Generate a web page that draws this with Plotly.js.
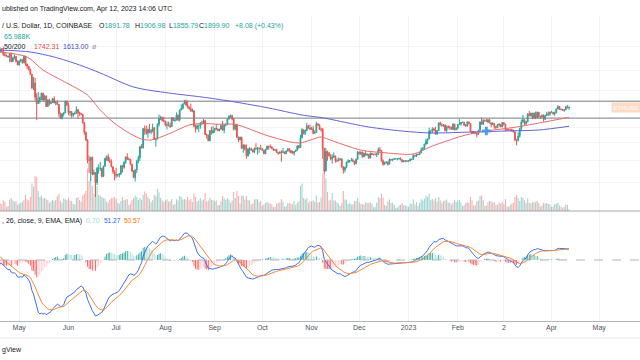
<!DOCTYPE html>
<html><head><meta charset="utf-8">
<script src="https://cdn.plot.ly/plotly-3.0.1.min.js"></script>
<style>html,body{margin:0;padding:0;background:#fff;overflow:hidden}#chart{width:640px;height:360px}</style>
</head><body><div id="chart"></div>
<script>
// ---------- DATA (ETH / U.S. Dollar, 1D, COINBASE) ----------
// closes before the visible window (Mar 1 - Apr 18 2022), used only to warm up the MACD
const warmupCloses = [2970,2950,2835,2620,2665,2555,2495,2575,2725,2610,2560,2555,2515,2590,2620,2770,2815,2945,2950,2860,2895,2970,3030,3110,3105,3145,3300,3330,3400,3385,3280,
 3455,3445,3520,3520,3410,3170,3235,3190,3260,3210,2980,3030,3120,3020,3040,3060,2990,3055];
const firstDay = '2022-04-19';
// daily [high, low, close]
const apr22 = [[3170,3030,3105],[3155,3040,3075],[3190,2950,2985],[3030,2930,2965],[2980,2925,2940],[2955,2900,2925],[3020,2790,3005],[3040,2790,2810],[2925,2795,2890],[2985,2860,2935],[2940,2785,2815],[2840,2725,2730]];
const may22 = [[2835,2710,2825],[2880,2790,2855],[2875,2760,2780],[2955,2770,2940],[2950,2705,2750],[2760,2630,2700],[2700,2600,2635],[2640,2505,2520],[2525,2215,2245],[2460,2200,2340],
 [2445,2010,2070],[2145,1700,1960],[2165,1955,2010],[2080,1960,2060],[2150,2020,2145],[2140,1990,2020],[2115,2015,2090],[2100,1905,1910],[2030,1905,2020],[2045,1925,1960],
 [1990,1950,1975],[2055,1970,2045],[2085,1965,1970],[2000,1930,1980],[2015,1935,1945],[1955,1750,1800],[1815,1715,1725],[1805,1710,1790],[1815,1755,1810],[2010,1805,1995],
 [2015,1920,1940]];
const jun22 = [[1975,1775,1815],[1840,1760,1830],[1835,1735,1775],[1805,1745,1800],[1830,1780,1805],[1915,1795,1860],[1870,1720,1815],[1830,1765,1790],[1810,1775,1790],[1790,1650,1665],
 [1675,1500,1530],[1545,1420,1435],[1440,1175,1210],[1255,1080,1205],[1240,1010,1235],[1245,1060,1070],[1115,1065,1085],[1090,880,995],[1140,975,1125],[1165,1075,1125],
 [1190,1100,1125],[1130,1040,1050],[1150,1045,1145],[1230,1140,1225],[1255,1200,1245],[1275,1195,1200],[1235,1180,1190],[1215,1135,1140],[1140,1075,1095],[1105,1015,1070]];
const jul22 = [[1130,1035,1060],[1070,1045,1065],[1080,1040,1075],[1155,1060,1150],[1160,1085,1135],[1195,1120,1185],[1245,1170,1240],[1280,1210,1215],[1235,1205,1215],[1220,1155,1165],
 [1170,1090,1100],[1105,1035,1040],[1115,1005,1110],[1210,1080,1195],[1255,1175,1235],[1365,1200,1355],[1385,1335,1340],[1590,1335,1580],[1625,1500,1545],[1620,1500,1520],
 [1580,1460,1575],[1645,1520,1535],[1575,1505,1550],[1650,1530,1595],[1600,1435,1440],[1460,1355,1450],[1655,1440,1640],[1785,1610,1725],[1765,1700,1735],[1755,1680,1695],
 [1750,1670,1680]];
const aug22 = [[1695,1610,1630],[1680,1570,1635],[1680,1615,1620],[1665,1590,1610],[1740,1605,1735],[1745,1690,1695],[1725,1675,1700],[1815,1700,1775],[1785,1685,1705],[1860,1680,1855],
 [1945,1850,1880],[1960,1865,1955],[2020,1950,1985],[2030,1920,1935],[2010,1880,1905],[1905,1860,1875],[1960,1830,1835],[1880,1820,1845],[1850,1600,1615],[1640,1530,1580],
 [1640,1570,1620],[1630,1535,1625],[1670,1580,1660],[1690,1630,1655],[1720,1650,1695],[1705,1495,1505],[1515,1450,1490],[1505,1420,1425],[1560,1420,1555],[1605,1500,1525],
 [1620,1515,1555]];
const sep22 = [[1590,1525,1585],[1645,1560,1575],[1585,1545,1555],[1580,1545,1575],[1650,1570,1620],[1690,1555,1560],[1640,1520,1630],[1655,1610,1635],[1725,1630,1715],[1770,1710,1760],
 [1785,1735,1770],[1770,1700,1715],[1735,1555,1575],[1640,1560,1635],[1650,1460,1470],[1475,1410,1435],[1475,1430,1470],[1470,1330,1335],[1380,1285,1375],[1380,1310,1325],
 [1380,1220,1250],[1335,1245,1330],[1350,1270,1330],[1345,1310,1315],[1325,1290,1295],[1345,1280,1335],[1395,1320,1330],[1350,1265,1335],[1345,1285,1335],[1375,1320,1330]];
const oct22 = [[1335,1305,1310],[1320,1270,1275],[1330,1270,1325],[1365,1320,1360],[1365,1320,1350],[1380,1345,1350],[1360,1325,1330],[1335,1310,1315],[1325,1305,1320],[1330,1285,1290],
 [1295,1265,1280],[1300,1275,1295],[1315,1190,1290],[1340,1285,1295],[1300,1270,1275],[1310,1275,1305],[1335,1300,1330],[1340,1290,1310],[1315,1280,1285],[1310,1275,1280],
 [1305,1255,1300],[1320,1295,1315],[1365,1305,1365],[1375,1330,1345],[1500,1340,1460],[1590,1455,1565],[1575,1505,1515],[1570,1495,1555],[1660,1550,1620],[1630,1580,1590],
 [1640,1560,1575]];
const nov22 = [[1605,1565,1580],[1620,1505,1520],[1560,1510,1530],[1675,1530,1645],[1660,1620,1630],[1640,1565,1570],[1595,1540,1570],[1590,1220,1335],[1340,1075,1100],[1340,1095,1300],
 [1310,1200,1285],[1290,1240,1255],[1270,1205,1220],[1270,1170,1240],[1290,1230,1250],[1255,1180,1200],[1225,1185,1200],[1235,1195,1210],[1225,1205,1220],[1225,1130,1140],
 [1145,1075,1110],[1140,1085,1135],[1190,1125,1185],[1215,1180,1200],[1205,1180,1200],[1230,1195,1205],[1225,1190,1195],[1200,1155,1170],[1225,1165,1215],[1305,1215,1295]];
const dec22 = [[1300,1265,1275],[1300,1260,1295],[1295,1235,1240],[1285,1240,1280],[1305,1255,1260],[1275,1250,1270],[1270,1220,1230],[1290,1225,1280],[1285,1260,1265],[1275,1260,1265],
 [1285,1260,1265],[1280,1240,1275],[1345,1260,1320],[1350,1300,1310],[1315,1190,1200],[1215,1150,1165],[1190,1160,1185],[1195,1170,1185],[1195,1150,1165],[1225,1165,1215],
 [1220,1200,1210],[1220,1195,1215],[1230,1210,1220],[1225,1215,1220],[1225,1205,1220],[1230,1215,1225],[1235,1205,1210],[1215,1185,1190],[1205,1185,1200],[1205,1185,1200],
 [1205,1190,1195]];
const jan23 = [[1205,1190,1200],[1225,1195,1215],[1220,1205,1215],[1275,1210,1255],[1260,1245,1250],[1275,1240,1270],[1270,1260,1265],[1290,1260,1285],[1345,1280,1320],[1350,1310,1335],
 [1390,1325,1385],[1450,1375,1420],[1455,1385,1450],[1595,1445,1550],[1555,1510,1550],[1600,1520,1575],[1595,1545,1565],[1605,1500,1510],[1560,1500,1555],[1665,1550,1660],
 [1680,1625,1630],[1655,1605,1625],[1645,1605,1630],[1640,1545,1555],[1625,1530,1610],[1625,1580,1600],[1620,1565,1600],[1605,1565,1570],[1655,1570,1645],[1645,1555,1565],
 [1600,1565,1585]];
const feb23 = [[1645,1570,1640],[1715,1640,1645],[1675,1620,1665],[1680,1660,1670],[1675,1620,1630],[1645,1610,1615],[1680,1615,1675],[1680,1640,1650],[1655,1535,1545],[1550,1510,1515],
 [1545,1510,1540],[1550,1510,1515],[1520,1465,1505],[1565,1500,1555],[1680,1550,1675],[1740,1635,1640],[1715,1635,1695],[1710,1685,1690],[1720,1675,1680],[1715,1655,1705],
 [1720,1655,1660],[1665,1600,1640],[1675,1630,1650],[1660,1580,1610],[1610,1575,1595],[1645,1590,1640],[1660,1610,1635],[1645,1600,1605]];
const mar23 = [[1670,1600,1665],[1665,1625,1645],[1645,1545,1570],[1575,1555,1565],[1580,1560,1565],[1575,1550,1565],[1580,1540,1560],[1565,1530,1535],[1545,1420,1435],[1445,1370,1430],
 [1530,1415,1480],[1590,1465,1585],[1710,1555,1675],[1780,1665,1705],[1715,1625,1650],[1690,1625,1675],[1800,1670,1795],[1840,1760,1765],[1815,1755,1805],[1810,1715,1735],
 [1815,1715,1805],[1830,1715,1735],[1830,1730,1820],[1820,1735,1750],[1765,1720,1745],[1785,1740,1775],[1785,1680,1715],[1780,1700,1770],[1825,1765,1795],[1830,1765,1790],
 [1830,1765,1820]];
const apr23 = [[1840,1810,1820],[1825,1780,1795],[1830,1765,1810],[1880,1805,1870],[1935,1865,1910],[1910,1855,1870],[1875,1850,1865],[1870,1845,1850],[1865,1825,1860],[1915,1850,1910],
 [1935,1880,1891.78],[1906.98,1855.79,1899.90]];
// daily volume, thousands of ETH
const volApr22 = [310,280,420,360,170,200,460,520,420,380,390,250];
const volMay22 = [300,330,380,440,650,470,420,560,1100,980,1400,1350,800,560,620,500,520,470,430,320,380,450,400,440,600,690,400,330,500,470,430];
const volJun22 = [520,420,400,280,260,520,560,440,380,620,690,800,1700,1200,1350,1000,700,1300,1000,650,600,560,520,500,370,330,450,520,530,560];
const volJul22 = [480,330,290,400,560,430,460,470,240,300,430,520,620,560,450,520,450,650,780,700,560,480,350,430,650,600,880,750,520,420,360];
const volAug22 = [420,470,380,380,480,240,280,470,420,600,560,460,480,440,560,420,480,360,700,560,380,420,520,420,460,720,380,420,520,450,430];
const volSep22 = [390,420,230,240,400,600,500,440,520,460,330,420,760,520,800,600,300,600,620,450,600,440,420,260,300,460,480,470,360,400];
const volOct22 = [210,260,320,360,320,300,270,160,170,300,320,330,480,380,180,200,300,320,300,270,400,230,330,400,1000,1100,520,460,520,330,400];
const volNov22 = [380,420,360,620,330,360,540,1500,1650,1300,760,420,450,720,420,420,350,300,200,330,800,460,450,280,320,260,270,390,400,520];
const volDec22 = [350,290,270,260,360,320,330,340,290,150,170,330,560,510,700,520,250,200,380,460,320,330,250,120,140,220,250,320,240,220,200];
const volJan23 = [170,300,280,470,260,360,200,320,470,420,500,620,560,700,430,480,420,520,380,560,420,320,400,420,460,340,330,260,330,450,360];
const volFeb23 = [420,440,340,200,230,320,350,330,560,420,220,230,390,420,600,620,430,210,220,360,400,380,340,360,250,260,330,300];
const volMar23 = [360,280,480,180,170,240,300,330,560,640,520,400,560,520,430,330,500,330,300,360,350,360,400,320,180,220,330,300,320,280,270];
const volApr23 = [170,180,280,300,320,220,170,130,160,260,240,65.988];
// moving averages 50 / 200
const ma50Dates = ['2022-04-19','2022-05-06','2022-05-16','2022-05-31','2022-06-08','2022-06-13','2022-06-21','2022-06-29','2022-07-08','2022-07-17','2022-07-23','2022-08-03','2022-08-16','2022-08-24','2022-09-04','2022-09-14','2022-10-05','2022-10-24','2022-11-07','2022-11-11','2022-12-02','2022-12-19','2023-01-04','2023-01-16','2023-02-06','2023-02-19','2023-03-10','2023-04-12'];
const ma50Values = [3049,2921,2613,2338,2202,2109,1855,1674,1536,1446,1434,1510,1631,1652,1640,1640,1484,1398,1472,1446,1316,1283,1272,1362,1497,1549,1603,1742.31];
const ma200Dates = ['2022-04-19','2022-05-08','2022-05-23','2022-06-08','2022-06-21','2022-07-12','2022-08-03','2022-08-24','2022-09-06','2022-09-14','2022-10-05','2022-10-26','2022-11-09','2022-11-15','2022-12-07','2022-12-28','2023-01-15','2023-02-10','2023-03-03','2023-03-24','2023-04-12'];
const ma200Values = [3102,3049,2921,2728,2547,2259,2146,2073,2021,1986,1887,1777,1732,1703,1603,1549,1523,1536,1549,1563,1613.00];
const crossDate = ['2023-02-19'];
const crossPrice = [1549];
const levelLines = [2000, 1730];
const tickDates = ['2022-05-01','2022-06-01','2022-07-01','2022-08-01','2022-09-01','2022-10-01','2022-11-01','2022-12-01','2023-01-01','2023-02-01','2023-03-02','2023-04-01','2023-05-01'];
const tickLabels = ['May','Jun','Jul','Aug','Sep','Oct','Nov','Dec','2023','Feb','2','Apr','May'];

// ---------- BUILD ----------
const bars = [].concat(apr22,may22,jun22,jul22,aug22,sep22,oct22,nov22,dec22,jan23,feb23,mar23,apr23);
const vols = [].concat(volApr22,volMay22,volJun22,volJul22,volAug22,volSep22,volOct22,volNov22,volDec22,volJan23,volFeb23,volMar23,volApr23);
const t0 = Date.parse(firstDay + 'T00:00:00Z');
const dates = bars.map((b,i)=> new Date(t0 + i*864e5).toISOString().slice(0,10));
const high = bars.map(b=>b[0]), low = bars.map(b=>b[1]), close = bars.map(b=>b[2]);
const open = close.map((c,i)=> i===0 ? warmupCloses[warmupCloses.length-1] : close[i-1]);

function ema(arr,len){const a=2/(len+1);let p;return arr.map((v,i)=>{p=(i===0)?v:a*v+(1-a)*p;return p;});}
const allC = warmupCloses.concat(close);
const e12 = ema(allC,12), e26 = ema(allC,26);
const macdAll = e12.map((v,i)=>v-e26[i]);
const sigAll = ema(macdAll,9);
const histAll = macdAll.map((v,i)=>v-sigAll[i]);
const off = warmupCloses.length;
const macd = macdAll.slice(off), sig = sigAll.slice(off), hist = histAll.slice(off);
const histColors = hist.map((h,i)=>{const prev=histAll[off+i-1];
  if(h>=0) return h>prev ? '#26a69a' : '#b2dfdb';
  return h<prev ? '#ff5252' : '#ffcdd2';});
const volColors = close.map((c,i)=> c>=open[i] ? 'rgba(38,166,154,0.45)' : 'rgba(239,83,80,0.45)');

const xStart = '2022-04-18 22:00', xEnd = '2023-05-26 16:29';
const H = 360, W = 640;
const py = p => 1 - p/H;

const traces = [
  {type:'bar', x:dates, y:vols, xaxis:'x', yaxis:'y', marker:{color:volColors, line:{width:0}}, width:0.7*864e5, hoverinfo:'skip'},
  {type:'candlestick', x:dates, open:open, high:high, low:low, close:close, xaxis:'x', yaxis:'y2',
   increasing:{line:{color:'#26a69a', width:1}, fillcolor:'#26a69a'},
   decreasing:{line:{color:'#ef5350', width:1}, fillcolor:'#ef5350'}, whiskerwidth:0, hoverinfo:'skip'},
  {type:'scatter', mode:'lines', x:[xStart,xEnd], y:[levelLines[0],levelLines[0]], xaxis:'x', yaxis:'y2', line:{color:'#787b86', width:1}, hoverinfo:'skip'},
  {type:'scatter', mode:'lines', x:[xStart,xEnd], y:[levelLines[1],levelLines[1]], xaxis:'x', yaxis:'y2', line:{color:'#787b86', width:1}, hoverinfo:'skip'},
  {type:'scatter', mode:'lines', x:ma200Dates, y:ma200Values, xaxis:'x', yaxis:'y2', line:{color:'#6262d8', width:1, shape:'spline', smoothing:0.8}, hoverinfo:'skip'},
  {type:'scatter', mode:'lines', x:ma50Dates, y:ma50Values, xaxis:'x', yaxis:'y2', line:{color:'#ec6a6a', width:1, shape:'spline', smoothing:0.8}, hoverinfo:'skip'},
  {type:'scatter', mode:'markers', x:crossDate, y:crossPrice, xaxis:'x', yaxis:'y2', marker:{symbol:'cross', size:7, color:'#4d9be6', line:{width:0}}, hoverinfo:'skip'},
  {type:'bar', x:dates, y:hist, xaxis:'x', yaxis:'y3', marker:{color:histColors, line:{width:0}}, width:0.55*864e5, hoverinfo:'skip'},
  {type:'scatter', mode:'lines', x:dates, y:macd, xaxis:'x', yaxis:'y3', line:{color:'#3f6ff0', width:1}, hoverinfo:'skip'},
  {type:'scatter', mode:'lines', x:dates, y:sig, xaxis:'x', yaxis:'y3', line:{color:'#f5883a', width:1}, hoverinfo:'skip'}
];

const FONT = 'Liberation Sans, Arial, sans-serif';
const DARK = '#131722', TEAL = '#26a69a';
function ann(text, x, y, color, size){
  return {text:text, xref:'paper', yref:'paper', x:x/W, y:py(y), xanchor:'left', yanchor:'middle',
    showarrow:false, font:{family:FONT, size:size||7, color:color||DARK}};
}
const annotations = [
  ann('ublished on TradingView.com, Apr 12, 2023 14:06 UTC', 0, 9.3),
  ann('/ U.S. Dollar, 1D, COINBASE', 0, 25.7),
  ann('O<span style="color:'+TEAL+'">1891.78</span>', 97, 25.7),
  ann('H<span style="color:'+TEAL+'">1906.98</span>', 133, 25.7),
  ann('L<span style="color:'+TEAL+'">1855.79</span>', 167, 25.7),
  ann('C<span style="color:'+TEAL+'">1899.90</span>', 197, 25.7),
  ann('+8.08 (+0.43%)', 233, 25.7, TEAL),
  ann('65.988K', 2, 37, TEAL),
  ann('.50/200', 0, 46.7),
  ann('1742.31', 32, 46.7, '#e5483f'),
  ann('1613.00', 61, 46.7, '#4545c8'),
  ann('ø', 90, 46.7, '#9598a1'),
  ann(', 26, close, 9, EMA, EMA)', 0, 220.7),
  ann('0.70', 84, 220.7, '#9fd6cf'),
  ann('51.27', 102, 220.7, '#2962ff', 6.5),
  ann('50.57', 122, 220.7, '#ff6d00', 6.5),
  ann('gView', 0, 350),
  {text:'ETHUSD', xref:'paper', yref:'paper', x:611/W, y:py(107), xanchor:'left', yanchor:'middle', showarrow:false,
   font:{family:FONT, size:6.2, color:'#ffffff'}, bgcolor:'#fcdcc4', borderpad:1}
];

const shapes = [
  {type:'line', xref:'paper', yref:'y3', x0:0, x1:1, y0:0, y1:0, line:{color:'#b2b5be', width:1, dash:'dash'}},
  {type:'line', xref:'paper', yref:'paper', x0:0, x1:1, y0:py(211), y1:py(211), line:{color:'#a3a6af', width:1}},
  {type:'line', xref:'paper', yref:'paper', x0:0, x1:1, y0:py(338), y1:py(338), line:{color:'#e6e8ee', width:1}}
];

const layout = {
  width:W, height:H, margin:{l:0,r:0,t:0,b:0}, paper_bgcolor:'#ffffff', plot_bgcolor:'#ffffff',
  showlegend:false, font:{family:FONT, size:7, color:'#4c525e'}, barmode:'overlay',
  xaxis:{type:'date', range:[xStart,xEnd], domain:[0,1], anchor:'y3', rangeslider:{visible:false},
    tickvals:tickDates, ticktext:tickLabels, tickangle:0, ticks:'', showgrid:true, gridcolor:'#f0f3fa', gridwidth:1,
    showline:true, linecolor:'#b2b5be', linewidth:1, zeroline:false, tickfont:{family:FONT, size:7, color:'#4c525e'}, fixedrange:true},
  yaxis:{domain:[py(211), py(15)], range:[0, 7840], visible:false, showgrid:false, zeroline:false, fixedrange:true},
  yaxis2:{type:'log', overlaying:'y', range:[Math.log10(780.5), Math.log10(4186.6)], showticklabels:false, ticks:'',
    tickvals:[1000,1200,1400,1600,2200,2600,3200], showgrid:true, gridcolor:'#f3f4f8', zeroline:false, showline:false, fixedrange:true},
  yaxis3:{domain:[py(321), py(211)], range:[-284.3, 228.3], showticklabels:false, ticks:'', showgrid:false, zeroline:false, showline:false, fixedrange:true},
  annotations:annotations, shapes:shapes
};
Plotly.newPlot('chart', traces, layout, {staticPlot:true, displayModeBar:false});
</script>
</body></html>
